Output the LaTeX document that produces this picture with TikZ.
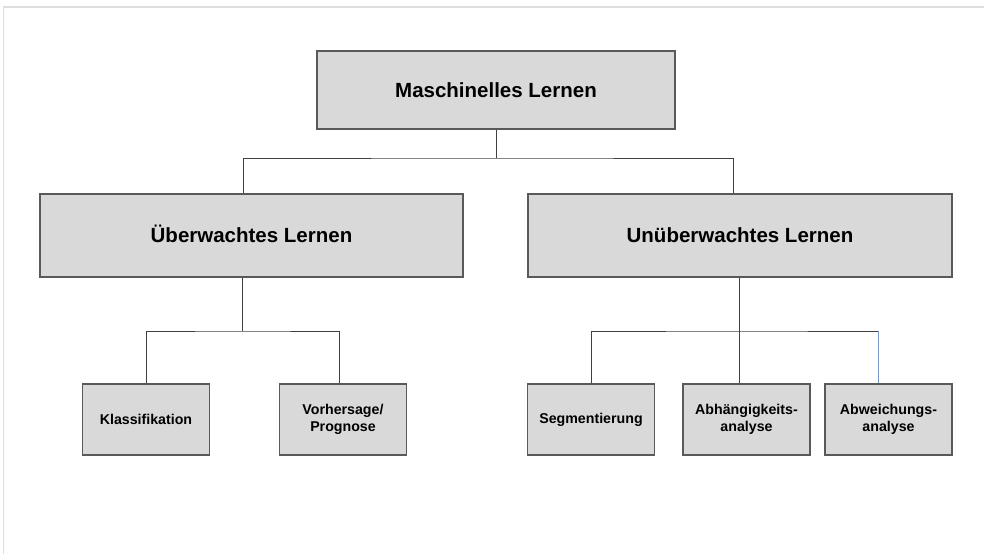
\documentclass[tikz,border=0pt]{standalone}
\usepackage{fontspec}
\setmainfont{Liberation Sans}
\usepackage{tikz}
\usetikzlibrary{positioning,calc}
\usepackage{xcolor}
\definecolor{boxgrey}{RGB}{217,217,217}
\definecolor{boxline}{RGB}{89,89,89}
\definecolor{connline}{RGB}{64,64,64}
\definecolor{framegrey}{RGB}{222,222,222}
\definecolor{connblue}{RGB}{120,150,200}

\begin{document}
\begin{tikzpicture}[
    x=1pt, y=-1pt,
    big/.style={rectangle, draw=boxline, line width=1.2pt, fill=boxgrey, inner sep=0pt,
                align=center, font=\bfseries\fontsize{20.5}{24}\selectfont, minimum height=83pt,
                text height=18.5pt, text depth=4pt},
    small/.style={rectangle, draw=boxline, line width=1.2pt, fill=boxgrey, inner sep=0pt,
                  align=center, font=\bfseries\fontsize{14.2}{16.7}\selectfont,
                  minimum width=127pt, minimum height=71pt},
    conn/.style={draw=connline, line width=1pt}
]
\useasboundingbox (0,0) rectangle (984,554);
\draw[framegrey, line width=1.5pt] (984,7) -- (3.5,7) -- (3.5,554);

\node[big, minimum width=358pt, minimum height=78pt] (ml) at (496,90) {Maschinelles Lernen};
\node[big, minimum width=423pt] (uel) at (251.5,235.5) {Überwachtes Lernen};
\node[big, minimum width=424pt] (unl) at (740,235.5)   {Unüberwachtes Lernen};
\node[small] (kl)  at (146,419.5)   {Klassifikation};
\node[small] (vh)  at (343,419.5)   {Vorhersage/\\Prognose};
\node[small] (seg) at (591,419.5)   {Segmentierung};
\node[small] (abh) at (746.5,419.5) {Abhängigkeits-\\analyse};
\node[small] (abw) at (888.5,419.5) {Abweichungs-\\analyse};

% connectors (drop lines sit a little off centre, as in the sketch)
\coordinate (jt) at (ml.south |- 0,158);
\coordinate (jl) at ($(uel.south |- 0,331)+(-9,0)$);
\coordinate (jr) at ($(unl.south |- jl)+(-1,0)$);
\draw[conn] (ml.south) -- (jt);
\draw[conn] ($(uel.north)+(-8.5,0)$) |- (jt) -| ($(unl.north)+(-7,0)$);
\draw[conn] (jl |- uel.south) -- (jl);
\draw[conn] (kl.north) |- (jl) -| ($(vh.north)+(-4,0)$);
\draw[conn] (jr |- unl.south) -- (jr |- abh.north);
\draw[conn] (seg.north) |- (jr) -- ($(jr -| abw.north)+(-10.5,0)$);
\draw[conn, draw=connblue] ($(jr -| abw.north)+(-10.5,0)$) -- ($(abw.north)+(-10.5,0)$);
\end{tikzpicture}
\end{document}
